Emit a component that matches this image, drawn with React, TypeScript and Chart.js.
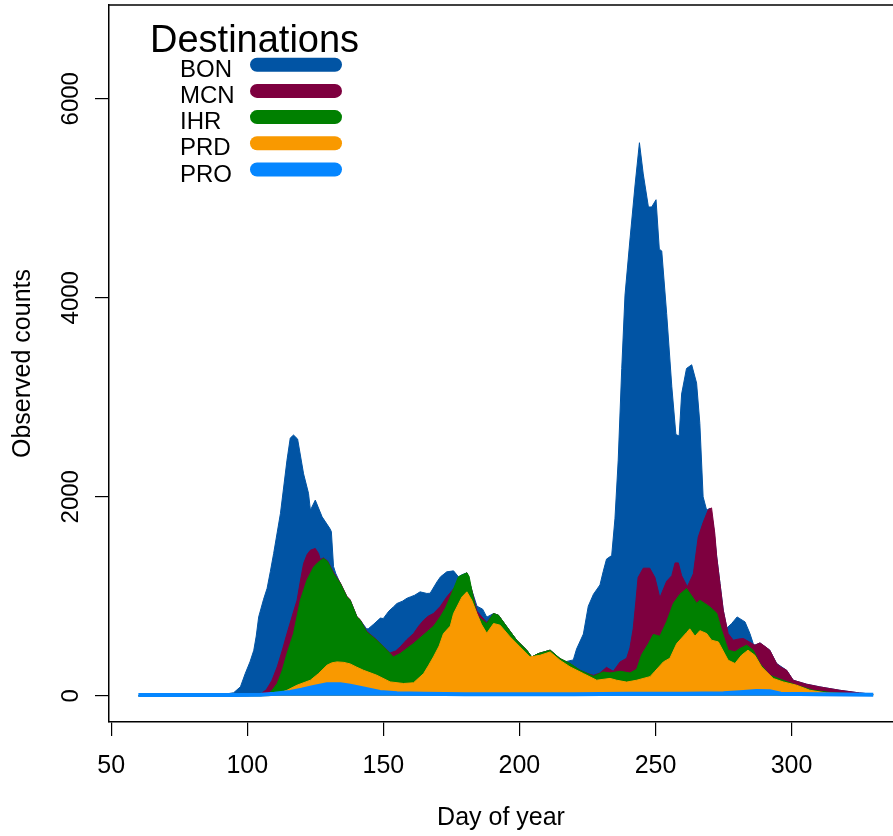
import React, { useEffect, useRef } from "react";
import { Chart, registerables } from "chart.js";

Chart.register(...registerables);

// ---- data ----
const SERIES_NAMES = ["BON", "MCN", "IHR", "PRD", "PRO"];
const SERIES_COLORS = ["#0154A4", "#7E003F", "#008000", "#F99900", "#0586FF"];

const BON_DAYS = [60,70,80,84,87,91,95,97.5,99.3,101,102.4,103.3,104.2,106,107.3,108.5,109.7,112.2,114.6,115.8,117,118.5,120.7,122.5,123.2,125,127.5,130.3,130.9,131.7,132.5,134.2,136.6,137.8,140.3,141.5,143.9,144.6,146.5,148.9,150,152,153.7,155,157,158.7,159.9,161.5,163.5,166,167.2,169.7,171,173.3,175.8,177.6,178.8,180.7,182.5,184.4,186.5,188,190.5,192.3,195.4,199,202.7,204.5,207,211.3,214.9,216.5,217.4,219.8,221,223.5,225.3,227.2,229.6,230.8,232,233.9,235.1,236.3,237.6,238.8,240.6,242.5,244.1,245.5,247.4,248.6,250.2,251.4,252.3,254.1,256,257.5,258.7,259.6,261.4,263.3,265.1,266.3,267.5,268.8,270,271.2,272.5,273.7,274.9,276.2,278,280,282.9,284.7,285.9,286.5,288.4,292,294.5,298.2,300.6,305.5,310.4,317.7,325,330];
const BON = [0,3,5,18,12,12,30,90,226,340,457,600,792,970,1080,1250,1430,1833,2368,2590,2620,2580,2230,2035,1865,1966,1798,1683,1650,1300,1230,1128,993,960,792,760,670,676,720,780,776,850,893,927,950,980,993,1010,1044,1028,1030,1144,1195,1245,1255,1195,1215,1235,1061,900,870,790,826,809,692,558,458,390,424,458,374,340,345,360,470,620,900,1020,1114,1250,1373,1409,1778,2368,3289,4027,4580,5133,5558,5244,4912,4912,4985,4488,4470,3842,3105,2625,2610,3032,3289,3326,3142,2736,1999,1865,1885,1731,1396,1128,860,680,726,792,742,625,525,508,531,458,324,256,156,116,89,55,28,15];

const MCN_DAYS = [60,100,103,105,107,109,111,112.8,114.6,116.5,118.3,119.5,120.7,122,123.2,125,126.2,126.8,128,129.5,131.7,134.2,136.6,137.8,140.3,141.5,143.9,147.6,151.3,152.5,154.5,156.2,158.5,161.1,163,164.8,166.5,168.4,171,173.3,176.4,178.3,180.7,182.5,184.4,188,190.5,192.3,195.4,199,202.7,204.5,207,211.3,214.9,218.6,222.3,225,227.2,229.6,232,234.5,237,239.4,240.6,241.8,242.8,243.6,245.5,247.9,249.8,251.6,254.1,256,257.2,258.4,259.6,261.7,263.9,265.7,267.5,269.4,270.6,271.8,272.5,273.7,274.9,276.7,278.6,280.5,282.3,284.5,286.5,288.4,290,292,294.5,296,298.2,300.6,305.5,310.4,317.7,325,330];
const MCN = [0,0,5,20,60,150,290,450,625,800,960,1150,1329,1420,1463,1480,1430,1370,1385,1355,1240,1135,1000,965,795,765,648,562,462,430,450,491,560,625,700,759,800,826,900,993,1094,1190,1235,1061,850,735,826,809,692,558,458,390,424,458,374,324,256,225,205,229,285,246,340,377,480,672,950,1188,1282,1282,1188,985,1151,1207,1335,1335,1207,1096,1225,1594,1741,1870,1888,1630,1396,1128,860,625,558,570,575,540,508,531,500,458,324,290,256,156,116,89,55,28,15];

const IHR_DAYS = [60,105,107.3,109,111,112.8,114.6,117,119.5,121.9,124.4,126,128,129.5,131.7,134.2,136.6,137.8,140.3,141.5,143.9,147.6,151.3,153.7,156.2,161.1,166,168.5,170.9,172.8,174.6,177.6,179.5,180.7,181.5,182.5,184.4,188,190.5,192.3,195.4,199,202.7,204.5,207,211.3,214.9,218.6,222.3,227.2,230.8,233.3,237,240.6,243.1,244.9,247.4,249.2,251.6,254.1,256.6,259,261.4,263.3,265.1,266.3,268,270,272.5,274.3,276.7,279.2,281,283.5,285.9,288.4,292,296.9,301.8,307.9,315,322,330];
const IHR = [0,0,10,50,123,250,424,625,960,1161,1295,1340,1380,1350,1228,1128,993,960,792,760,641,558,458,390,424,525,641,700,792,880,993,1195,1220,1235,1200,1061,800,726,826,809,692,558,458,390,424,458,374,324,256,196,239,229,246,229,266,413,524,616,598,745,930,1021,1077,1004,930,960,930,893,830,659,458,440,474,508,458,324,206,156,106,55,30,20,12];

const PRD_DAYS = [60,108,110,114.6,118.3,123.2,126.2,129.3,131,133,135.5,137.8,140,142.7,147.6,152.5,157.4,161.1,164.8,166.5,168.4,170.5,172.1,174.6,175.8,178.9,180.7,182.5,184.4,186,188,190.5,192.9,196.6,200.2,203.9,207.6,211.3,214.9,218.6,223.5,228.4,233.3,235.7,239.4,243.1,248,249.8,252.9,255.3,257.8,261.4,262.6,264.5,266.3,268.8,270.6,273.1,276.7,279.2,281.6,284,286.5,289,293.3,296.9,301.8,306.7,312.8,320,330];
const PRD = [0,0,10,55,106,156,223,307,330,340,335,320,290,256,206,139,123,130,223,300,390,500,625,700,826,993,1044,960,826,720,628,726,709,591,491,390,407,440,357,290,223,156,174,156,137,156,192,246,340,377,524,634,672,598,654,625,558,541,357,324,407,458,407,290,173,139,106,55,28,20,10];

const PRO_DAYS = [60,80,95,105,110,115.8,120,124.4,129.3,134.2,137.8,142.7,148.8,155,165,180,200,220,240,260,275,281,287,292,296,310,330];
const PRO = [8,8,8,10,20,38,60,89,116,116,100,72,38,25,20,15,15,15,20,20,25,35,48,45,20,15,10];

const SERIES_DAYS = [BON_DAYS, MCN_DAYS, IHR_DAYS, PRD_DAYS, PRO_DAYS];
const SERIES_VALUES = [BON, MCN, IHR, PRD, PRO];

const X_TICKS = [50, 100, 150, 200, 250, 300];
const Y_TICKS = [0, 2000, 4000, 6000];

const FONT = "'Liberation Sans', Arial, Helvetica, sans-serif";

const overlayPlugin = {
  id: "overlay",
  afterDraw(chart: any) {
    const ctx = chart.ctx;
    const area = chart.chartArea;
    const yScale = chart.scales.y;
    ctx.save();
    // top box line
    ctx.strokeStyle = "#000";
    ctx.lineWidth = 1.5;
    ctx.beginPath();
    ctx.moveTo(area.left, area.top);
    ctx.lineTo(chart.width, area.top);
    ctx.stroke();

    // rotated y tick labels
    ctx.fillStyle = "#000";
    ctx.font = `24px ${FONT}`;
    ctx.textAlign = "center";
    ctx.textBaseline = "alphabetic";
    for (const v of Y_TICKS) {
      const py = yScale.getPixelForValue(v);
      ctx.save();
      ctx.translate(78, py);
      ctx.rotate(-Math.PI / 2);
      ctx.fillText(String(v), 0, 0);
      ctx.restore();
    }

    // legend
    ctx.textAlign = "left";
    ctx.font = `38px ${FONT}`;
    ctx.fillText("Destinations", 150, 51.5);
    ctx.font = `24px ${FONT}`;
    SERIES_NAMES.forEach((name, i) => {
      const base = 76.7 + 26.2 * i;
      ctx.fillStyle = "#000";
      ctx.fillText(name, 180, base);
      ctx.strokeStyle = SERIES_COLORS[i];
      ctx.lineWidth = 14;
      ctx.lineCap = "round";
      ctx.beginPath();
      ctx.moveTo(257, base - 12);
      ctx.lineTo(335, base - 12);
      ctx.stroke();
    });
    ctx.restore();
  },
};

export default function App() {
  const ref = useRef<HTMLCanvasElement | null>(null);
  useEffect(() => {
    if (!ref.current) return;
    const datasets = SERIES_NAMES.map((name, i) => ({
      label: name,
      data: SERIES_DAYS[i].map((d, j) => ({ x: d, y: SERIES_VALUES[i][j] })),
      backgroundColor: SERIES_COLORS[i],
      borderColor: SERIES_COLORS[i],
      borderWidth: i === 4 ? 4 : 1,
      pointRadius: 0,
      fill: "origin",
      tension: 0,
      order: i === 4 ? 0 : 5 - i,
    }));
    const chart = new Chart(ref.current, {
      type: "line",
      data: { datasets },
      options: {
        animation: false,
        responsive: false,
        devicePixelRatio: 1,
        layout: { padding: { top: 5, left: 0, right: 0, bottom: 0 } },
        plugins: { legend: { display: false }, tooltip: { enabled: false } },
        scales: {
          x: {
            type: "linear",
            position: "bottom",
            min: 49.2,
            max: 337.27,
            afterBuildTicks: (s: any) => {
              s.ticks = X_TICKS.map((v) => ({ value: v }));
            },
            afterFit: (s: any) => {
              s.height = 114;
            },
            grid: { drawOnChartArea: false, drawTicks: true, tickLength: 14, color: "#000", lineWidth: 1.2 },
            border: { display: true, color: "#000", width: 1.5 },
            ticks: {
              color: "#000",
              font: { family: FONT, size: 25 },
              padding: 15,
              maxRotation: 0,
              minRotation: 0,
              callback: (v: any) => String(v),
            },
            title: {
              display: true,
              text: "Day of year",
              color: "#000",
              font: { family: FONT, size: 25 },
              padding: { top: 3, bottom: 3 },
            },
          },
          y: {
            type: "linear",
            position: "left",
            min: -264,
            max: 6942,
            afterBuildTicks: (s: any) => {
              s.ticks = Y_TICKS.map((v) => ({ value: v }));
            },
            afterFit: (s: any) => {
              s.width = 109;
            },
            grid: { drawOnChartArea: false, drawTicks: true, tickLength: 14, color: "#000", lineWidth: 1.2 },
            border: { display: true, color: "#000", width: 1.5 },
            ticks: { display: false },
            title: {
              display: true,
              text: "Observed counts",
              color: "#000",
              font: { family: FONT, size: 25 },
              padding: { top: 8, bottom: 8 },
            },
          },
        },
      },
      plugins: [overlayPlugin],
    });
    return () => chart.destroy();
  }, []);
  return (
    <div style={{ position: "absolute", left: 0, top: 0, width: 893, height: 836, background: "#fff" }}>
      <canvas ref={ref} width={893} height={836} style={{ display: "block", width: 893, height: 836 }} />
    </div>
  );
}
